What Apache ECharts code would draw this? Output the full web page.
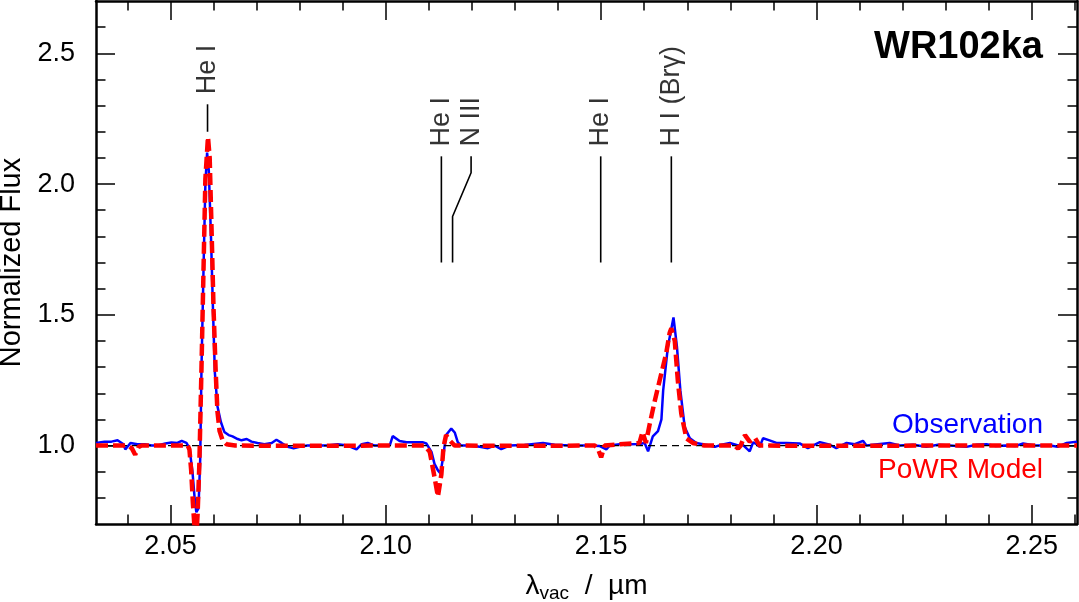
<!DOCTYPE html>
<html>
<head>
<meta charset="utf-8">
<script src="https://cdn.jsdelivr.net/npm/echarts@6/dist/echarts.min.js"></script>
<style>
html,body{margin:0;padding:0;background:#fff;}
#chart{width:1079px;height:602px;}
</style>
</head>
<body>
<div id="chart"></div>
<script>
// ---- data ----
const xMin = 2.0327, xMax = 2.2605;
const yMin = 0.7, yMax = 2.7;
const xMajorTicks = [2.05, 2.10, 2.15, 2.20, 2.25];
const xMinorTicks = [2.04,2.05,2.06,2.07,2.08,2.09,2.10,2.11,2.12,2.13,2.14,2.15,2.16,2.17,2.18,2.19,2.20,2.21,2.22,2.23,2.24,2.25,2.26];
const yMajorTicks = [1.0, 1.5, 2.0, 2.5];
const yMinorTicks = [0.8,0.9,1.0,1.1,1.2,1.3,1.4,1.5,1.6,1.7,1.8,1.9,2.0,2.1,2.2,2.3,2.4,2.5,2.6];

const obsWl = [2.0327,2.0347,2.0363,2.0377,2.0391,2.0395,2.0407,2.0423,2.0440,2.0456,2.0470,2.0488,2.0502,2.0516,2.0526,2.0537,2.0544,2.0551,2.0556,2.0560,2.0565,2.0569,2.0572,2.0577,2.0581,2.0585,2.0589,2.0594,2.0599,2.0603,2.0609,2.0617,2.0625,2.0635,2.0644,2.0656,2.0665,2.0677,2.0688,2.0702,2.0718,2.0735,2.0746,2.0758,2.0772,2.0786,2.0800,2.0818,2.0841,2.0865,2.0888,2.0911,2.0932,2.0944,2.0958,2.0974,2.0990,
2.1009,2.1016,2.1032,2.1048,2.1067,2.1085,2.1094,2.1106,2.1113,2.1121,2.1127,2.1133,2.1140,2.1152,2.1160,2.1167,2.1175,2.1195,2.1218,2.1237,2.1253,2.1268,2.1287,2.1322,2.1365,2.1392,2.1427,2.1462,2.1497,2.1512,2.1520,2.1543,2.1566,2.1589,2.1601,2.1609,2.1620,2.1632,2.1640,2.1644,2.1655,2.1668,2.1676,2.1684,2.1694,2.1706,2.1721,2.1736,2.1752,2.1764,2.1780,2.1799,2.1818,2.1829,2.1837,2.1845,2.1853,2.1861,2.1868,2.1876,2.1891,2.1907,2.1930,2.1961,2.1980,
2.2008,2.2031,2.2046,2.2070,2.2089,2.2108,2.2116,2.2142,2.2170,2.2193,2.2224,2.2255,2.2282,2.2310,2.2348,2.2372,2.2395,2.2416,2.2441,2.2461,2.2480,2.2507,2.2542,2.2560,2.2581,2.2605];
const obsFlux = [1.010,1.015,1.015,1.020,1.005,0.985,1.010,1.005,1.005,1.000,1.000,1.008,1.012,1.010,1.018,1.010,0.990,0.900,0.800,0.745,0.760,0.950,1.300,1.700,2.000,2.120,2.050,1.800,1.500,1.280,1.150,1.090,1.052,1.040,1.035,1.025,1.020,1.025,1.015,1.010,1.005,1.010,1.022,1.010,0.995,0.990,0.995,1.000,1.000,1.000,1.005,1.000,0.985,1.005,1.010,1.000,1.000,
1.000,1.036,1.017,1.013,1.013,1.013,1.008,0.976,0.930,0.905,0.893,0.956,1.040,1.065,1.050,1.013,1.000,1.000,0.995,0.990,1.000,0.986,1.000,1.002,1.010,1.003,1.000,1.000,0.998,0.985,1.000,1.005,1.005,1.006,1.010,0.978,1.035,1.055,1.100,1.210,1.378,1.490,1.378,1.210,1.071,1.028,1.010,1.005,1.000,0.995,1.003,1.010,1.000,1.003,0.990,0.978,1.012,1.005,0.995,1.028,1.020,1.010,1.010,1.008,0.990,
1.013,1.003,0.990,1.010,1.005,1.018,1.000,1.005,1.010,1.000,1.003,0.995,1.003,1.000,0.995,1.003,1.005,0.998,1.000,0.998,1.008,1.000,1.000,0.995,1.010,1.015];

const modelWl = [2.0327,2.0400,2.0410,2.0418,2.0426,2.0433,2.0520,2.0540,2.0544,2.0548,2.0552,2.0556,2.0559,2.0563,2.0567,2.0572,2.0577,2.0581,2.0587,2.0591,2.0595,2.0600,2.0605,2.0609,2.0614,2.0621,2.0630,2.0650,2.0800,2.1000,2.1090,2.1102,2.1113,2.1121,2.1129,2.1134,2.1140,2.1148,2.1160,2.1300,2.1485,2.1492,2.1500,2.1508,2.1543,2.1589,2.1596,2.1604,2.1613,2.1624,2.1636,2.1651,2.1659,2.1663,2.1671,2.1678,2.1686,2.1698,2.1713,2.1740,2.1810,2.1818,2.1824,2.1834,2.1845,2.1857,2.1868,2.2000,2.2300,2.2605];
const modelFlux = [1.000,1.000,0.990,0.965,0.995,1.000,1.000,1.000,0.985,0.905,0.780,0.680,0.620,0.740,0.930,1.300,1.700,2.020,2.180,2.100,1.850,1.520,1.280,1.130,1.055,1.020,1.005,1.000,0.999,1.000,1.000,0.976,0.880,0.805,0.890,0.995,1.040,1.020,1.000,0.999,1.000,0.990,0.955,1.000,1.005,1.010,1.052,1.010,1.084,1.167,1.250,1.352,1.430,1.448,1.400,1.250,1.123,1.027,1.010,1.000,1.000,0.988,1.000,1.040,1.015,1.030,1.000,0.999,1.000,1.000];

const annotLabels = ['He I', 'He I', 'N III', 'He I', 'H I (Br\u03b3)'];
const annotLabelWl = [2.0586, 2.1129, 2.1198, 2.1499, 2.1663];
const annotLabelFlux = [2.343, 2.144, 2.144, 2.144, 2.144];
const annotLines = [
  [[2.0586, 2.200], [2.0586, 2.305]],
  [[2.1129, 1.700], [2.1129, 2.106]],
  [[2.1155, 1.700], [2.1155, 1.876], [2.1198, 2.043], [2.1198, 2.106]],
  [[2.1499, 1.700], [2.1499, 2.106]],
  [[2.1663, 1.700], [2.1663, 2.106]]
];
const continuum = 1.0;

// ---- chart ----
const FONT = "'Liberation Sans', Arial, Helvetica, sans-serif";
const NARROW = "'Liberation Sans Narrow', 'Liberation Sans', Arial, sans-serif";
const zip = (a, b) => a.map((v, i) => [v, b[i]]);

function axisBase(extra) {
  return Object.assign({
    type: 'value', gridIndex: 0,
    splitLine: {show: false},
    axisLine: {show: true, onZero: false, lineStyle: {color: '#000', width: 2.5}},
    axisLabel: {show: false},
    axisPointer: {show: false}
  }, extra);
}

const xAxes = [
  axisBase({position: 'bottom', min: xMin, max: xMax,
    axisTick: {show: true, inside: true, length: 19, customValues: xMajorTicks, lineStyle: {color: '#000', width: 1.5}},
    axisLabel: {show: true, customValues: xMajorTicks, margin: 9, fontSize: 27, color: '#000', fontFamily: FONT,
      formatter: v => Number(v).toFixed(2)},
    name: '{m|\u03bb}{s|vac}{m|  /  \u00b5m}', nameLocation: 'middle', nameGap: 46,
    nameTextStyle: {color: '#000', fontFamily: FONT, rich: {
      m: {fontSize: 28, lineHeight: 33, verticalAlign: 'middle', color: '#000', fontFamily: FONT},
      s: {fontSize: 19, lineHeight: 17, verticalAlign: 'bottom', color: '#000', fontFamily: FONT}
    }}
  }),
  axisBase({position: 'bottom', min: xMin, max: xMax, axisLine: {show: false},
    axisTick: {show: true, inside: true, length: 9.5, customValues: xMinorTicks, lineStyle: {color: '#000', width: 1.5}}}),
  axisBase({position: 'top', min: xMin, max: xMax,
    axisTick: {show: true, inside: true, length: 19, customValues: xMajorTicks, lineStyle: {color: '#000', width: 1.5}}}),
  axisBase({position: 'top', min: xMin, max: xMax, axisLine: {show: false},
    axisTick: {show: true, inside: true, length: 9.5, customValues: xMinorTicks, lineStyle: {color: '#000', width: 1.5}}})
];
const yAxes = [
  axisBase({position: 'left', min: yMin, max: yMax,
    axisTick: {show: true, inside: true, length: 19, customValues: yMajorTicks, lineStyle: {color: '#000', width: 1.5}},
    axisLabel: {show: true, customValues: yMajorTicks, margin: 21, fontSize: 27, color: '#000', fontFamily: FONT,
      formatter: v => Number(v).toFixed(1)},
    name: 'Normalized Flux', nameLocation: 'middle', nameGap: 69, nameRotate: 90,
    nameTextStyle: {fontSize: 29, color: '#000', fontFamily: FONT}
  }),
  axisBase({position: 'left', min: yMin, max: yMax, axisLine: {show: false},
    axisTick: {show: true, inside: true, length: 9.5, customValues: yMinorTicks, lineStyle: {color: '#000', width: 1.5}}}),
  axisBase({position: 'right', min: yMin, max: yMax,
    axisTick: {show: true, inside: true, length: 19, customValues: yMajorTicks, lineStyle: {color: '#000', width: 1.5}}}),
  axisBase({position: 'right', min: yMin, max: yMax, axisLine: {show: false},
    axisTick: {show: true, inside: true, length: 9.5, customValues: yMinorTicks, lineStyle: {color: '#000', width: 1.5}}})
];

const series = [
  {type: 'line', name: 'Observation', data: zip(obsWl, obsFlux), showSymbol: false, symbol: 'none',
   clip: true, lineStyle: {color: '#0000ff', width: 2.5}, z: 3, silent: true},
  {type: 'line', name: 'continuum', data: [[xMin, continuum], [xMax, continuum]], showSymbol: false, symbol: 'none',
   lineStyle: {color: '#000', width: 1.3, type: [7, 5]}, z: 4, silent: true},
  {type: 'line', name: 'PoWR Model', data: zip(modelWl, modelFlux), showSymbol: false, symbol: 'none',
   clip: true, lineStyle: {color: '#ff0000', width: 4.5, type: [12, 5]}, z: 5, silent: true}
];
annotLines.forEach((seg, i) => {
  series.push({type: 'line', name: 'id' + i, data: seg, showSymbol: false, symbol: 'none', clip: false,
    lineStyle: {color: '#000', width: 1.6}, z: 6, silent: true});
});
series.push({
  type: 'scatter', name: 'idLabels', symbolSize: 1, itemStyle: {color: 'rgba(0,0,0,0)'}, silent: true, z: 7,
  data: annotLabels.map((t, i) => ({value: [annotLabelWl[i], annotLabelFlux[i]], name: t})),
  labelLayout: {hideOverlap: false},
  label: {show: true, position: 'inside', rotate: 90, align: 'left', verticalAlign: 'middle',
    formatter: p => p.name, fontSize: 27, color: '#000', fontFamily: NARROW}
});

const chart = echarts.init(document.getElementById('chart'), null, {renderer: 'canvas'});
chart.setOption({
  animation: false,
  backgroundColor: '#fff',
  grid: {left: 96, right: 2, top: 1, bottom: 78, containLabel: false, outerBoundsMode: 'none'},
  xAxis: xAxes,
  yAxis: yAxes,
  series: series,
  graphic: [
    {type: 'text', right: 36, top: 29, style: {text: 'WR102ka', font: "bold 38px 'Liberation Sans', Arial, sans-serif", fill: '#000'}},
    {type: 'text', right: 36, top: 411, style: {text: 'Observation', font: "28px 'Liberation Sans', Arial, sans-serif", fill: '#0000ff'}},
    {type: 'text', right: 36, top: 456, style: {text: 'PoWR Model', font: "28px 'Liberation Sans', Arial, sans-serif", fill: '#ff0000'}}
  ]
});
</script>
</body>
</html>
